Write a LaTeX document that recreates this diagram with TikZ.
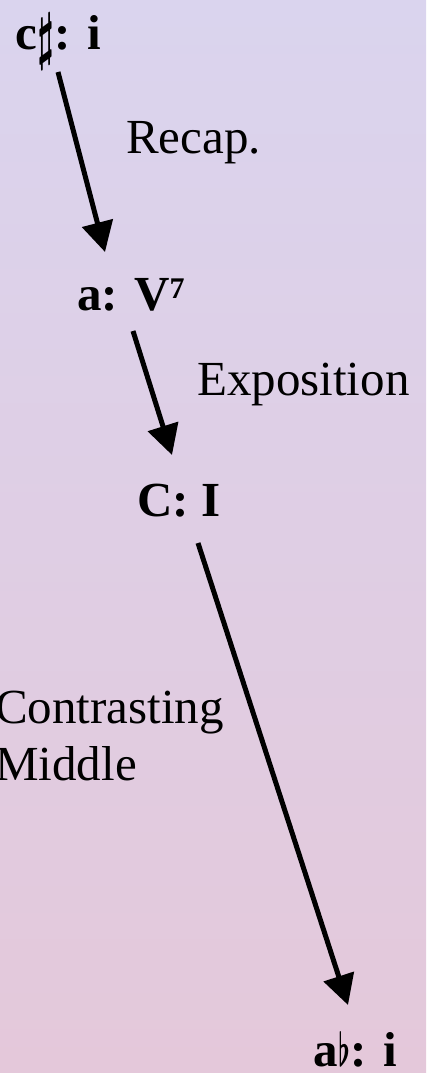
\documentclass[tikz,border=0pt]{standalone}
\usepackage{fontspec}
\setmainfont{Liberation Serif}
\usetikzlibrary{arrows.meta}
\newcommand\shp{\kern0.5pt\raisebox{-8pt}{\resizebox{17pt}{44pt}{\boldmath$\sharp$}}\kern0.5pt}
\newcommand\flt{\kern0.5pt\resizebox{12pt}{35pt}{\boldmath$\flat$}\kern0.5pt}
\newcommand\sev{\raisebox{12pt}{\fontsize{30}{30}\selectfont 7}}
\definecolor{skytop}{RGB}{218,212,238}
\definecolor{skymid}{RGB}{232,218,236}
\definecolor{skybot}{RGB}{228,200,218}
\begin{document}
\begin{tikzpicture}[x=1pt,y=-1pt,
  lbl/.style={anchor=base west, inner sep=0pt, font=\fontsize{49}{57}\selectfont},
  key/.style={anchor=base west, inner sep=0pt, font=\fontsize{49}{57}\selectfont\bfseries},
  conn/.style={line width=5pt, -{Triangle[length=30pt,width=31pt]}}]
\useasboundingbox (0,0) rectangle (426,1073);
\shade[top color=skytop, middle color=skymid, bottom color=skybot] (0,0) rectangle (426,1073);
% keys
\node[key] (cs) at (15,49) {c\shp: i};
\node[key] (a7) at (77,310) {a: V\sev};
\node[key] (cI) at (137,516) {C: I};
\node[key] (ab) at (313,1066) {a\flt: i};
% section labels
\node[lbl] (recap) at (126,153) {Recap.};
\node[lbl] (expo) at (197,395) {Exposition};
\node[lbl, align=left, anchor=west] (mid) at (-5,736) {Contrasting\\Middle};
% connector ends
\coordinate (s1) at (58,72);
\coordinate (t1) at (105,252);
\coordinate (s2) at (133,331);
\coordinate (t2) at (172,455);
\coordinate (s3) at (198,543);
\coordinate (t3) at (348,1005);
\draw[conn] (s1) -- (t1);
\draw[conn] (s2) -- (t2);
\draw[conn] (s3) -- (t3);
\end{tikzpicture}
\end{document}
